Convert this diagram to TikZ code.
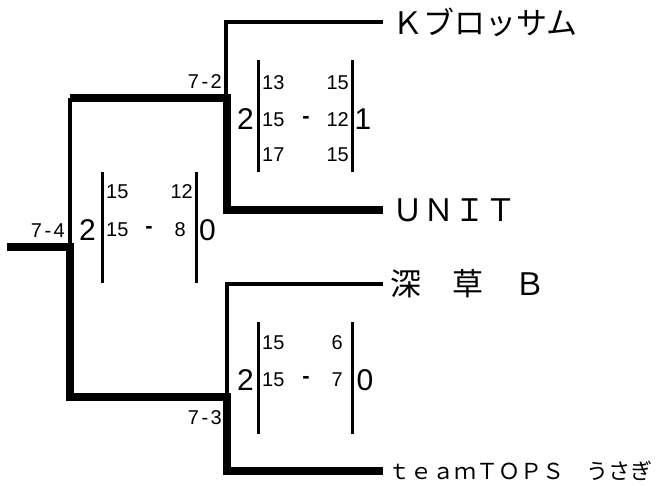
\documentclass[tikz,border=0pt]{standalone}
\usepackage{fontspec}
\setmainfont{Liberation Sans}
\newfontfamily\jp{Noto Sans CJK JP}
\begin{document}
\begin{tikzpicture}[x=1pt,y=-1pt,line join=miter,
		lose/.style={line width=3.4pt},
		win/.style={line width=7.5pt},
		bar/.style={line width=3pt},
		team/.style={anchor=west,inner xsep=9pt,inner ysep=0pt,font=\jp\fontsize{31}{31}\selectfont},
		pt/.style={inner sep=0pt,font=\fontsize{20}{20}\selectfont},
		sep/.style={inner sep=0pt,font=\fontsize{22}{22}\selectfont\bfseries},
		set/.style={inner sep=0pt,font=\fontsize{30}{30}\selectfont}]
		\useasboundingbox (0,0) rectangle (657,486);
		\node[team] (kb) at (383,22) {Ｋブロッサム};
		\node[team] (unit) at (383,210) {ＵＮＩＴ};
		\node[team,inner xsep=7pt] (fk) at (383,284) {深　草　Ｂ};
		\node[team,inner xsep=5pt,font=\jp\fontsize{22}{22}\selectfont] (tops) at (383,471) {ｔｅａｍＴＯＰＳ　うさぎ};
		\draw[lose] (kb.west) -| (226,98);
		\draw[win] (unit.west) -| (227,98) -- (70,98);
		\draw[lose] (70,98) -- (70,247);
		\draw[lose] (fk.west) -| (227,397);
		\draw[win] (tops.west) -| (227,397) -- (70,397) -- (70,247) -- (7,247);
		\draw (222,82) node[pt,anchor=east]{7\kern2.5pt-\kern2.5pt2};
		\draw (65,231) node[pt,anchor=east]{7\kern2.5pt-\kern2.5pt4};
		\draw (222,418) node[pt,anchor=east]{7\kern2.5pt-\kern2.5pt3};
		\foreach \x in {258,352} \draw[bar] (\x,60) -- (\x,172);
		\foreach \x in {102,196} \draw[bar] (\x,172) -- (\x,283);
		\foreach \x in {258,352} \draw[bar] (\x,322) -- (\x,434);
		\node[set] (s72l) at (245.5,119) {2};
		\node[set] (s72r) at (363,119) {1};
		\node[pt,anchor=west] at (262,83) {13};
		\node[pt,anchor=west] at (262,120) {15};
		\node[pt,anchor=west] at (262,155) {17};
		\node[pt,anchor=east] at (349,83) {15};
		\node[pt,anchor=east] at (349,120) {12};
		\node[pt,anchor=east] at (349,155) {15};
		\node[sep] at (306,120) {-};
		\node[set] (s74l) at (87.5,230.5) {2};
		\node[set] (s74r) at (207.5,230.5) {0};
		\node[pt,anchor=west] at (106,192) {15};
		\node[pt,anchor=west] at (106,230) {15};
		\node[pt,anchor=east] at (193,192) {12};
		\node[pt,anchor=east] at (186,230) {8};
		\node[sep] at (149,230) {-};
		\node[set] (s73l) at (245.5,380) {2};
		\node[set] (s73r) at (365,380) {0};
		\node[pt,anchor=west] at (262,343) {15};
		\node[pt,anchor=west] at (262,380) {15};
		\node[pt,anchor=east] at (343,343) {6};
		\node[pt,anchor=east] at (343,380) {7};
		\node[sep] at (306,380) {-};
	\end{tikzpicture}
\end{document}
